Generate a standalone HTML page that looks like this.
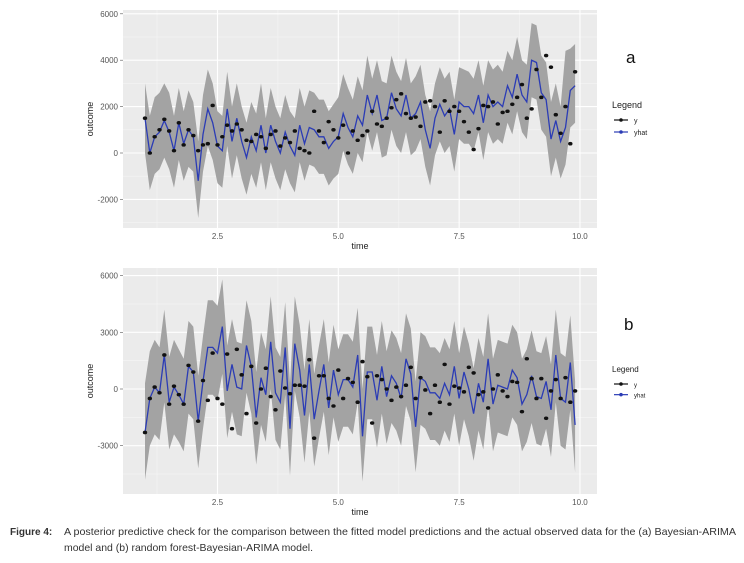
<!DOCTYPE html>
<html><head><meta charset="utf-8"><style>
body{margin:0;background:#fff;width:744px;height:558px;overflow:hidden;font-family:"Liberation Sans",sans-serif}
svg text{font-family:"Liberation Sans",sans-serif}
</style></head><body>
<svg id="fig" width="744" height="558" xmlns="http://www.w3.org/2000/svg">
<g id="pa"></g>
<g id="pb"></g>
<text x="626" y="63" font-size="17" fill="#111">a</text>
<text x="624" y="330" font-size="17" fill="#111">b</text>
<text x="10" y="535" font-size="10" font-weight="bold" fill="#333">Figure 4:</text>
<text x="64" y="535" font-size="10.5" fill="#333" textLength="672" lengthAdjust="spacingAndGlyphs">A posterior predictive check for the comparison between the fitted model predictions and the actual observed data for the (a) Bayesian-ARIMA</text>
<text x="64" y="551" font-size="10.5" fill="#333" textLength="249" lengthAdjust="spacingAndGlyphs">model and (b) random forest-Bayesian-ARIMA model.</text>
</svg>
<script>
const times=[];for(let i=0;i<90;i++)times.push(1+i*0.1);
const xTicks=[2.5,5.0,7.5,10.0];
const xTickLabels=["2.5","5.0","7.5","10.0"];
const aYTicks=[-2000,0,2000,4000,6000];
const bYTicks=[-3000,0,3000,6000];
const aYhat=[1500,0,700,900,1400,900,100,1300,400,1000,700,-1200,800,1900,1300,300,100,1900,500,1500,500,-200,700,100,1200,0,1200,500,0,900,300,-100,1200,400,1100,1000,700,700,200,500,700,1700,1100,700,1600,1200,2500,1700,2500,1400,1500,2600,1900,1600,2500,1500,1700,2200,1000,200,1500,2100,1600,1900,800,2200,2000,2000,1700,2500,1300,2500,2000,2200,2000,2900,2400,3400,2500,2200,4000,3900,2600,2300,600,1400,500,1100,2700,2900];
const aHi=[3000,1600,2400,2600,3000,2600,1600,2800,1800,2700,2200,500,2500,3600,3000,1800,1600,3500,2000,3000,2000,1300,2200,1700,3000,1500,2800,2000,1500,2500,1800,1500,2800,2000,2700,2600,2300,2300,1800,2100,2400,3400,2800,2300,3300,2700,4200,3200,4000,3100,3000,4200,3500,3100,4100,3000,3300,3800,2500,1800,3000,3700,3200,3500,2300,3700,3600,3500,3200,4000,2900,4000,3600,3800,3500,4400,4000,5000,4000,3800,5600,5500,4200,3900,2200,3000,2000,4400,4500,4700];
const aLo=[0,-1600,-900,-700,-200,-700,-1500,-300,-1200,-600,-800,-2800,-800,300,-300,-1300,-1500,300,-1100,-100,-1100,-1800,-900,-1500,-400,-1600,-400,-1100,-1600,-700,-1300,-1700,-400,-1200,-500,-600,-900,-900,-1400,-1100,-900,100,-500,-900,0,-400,900,100,900,-200,-100,1000,300,0,900,-100,100,600,-600,-1400,-100,500,0,300,-800,600,400,400,100,900,-300,900,400,600,400,1300,800,1800,900,600,2400,2300,1000,700,-1000,-200,-1100,-500,1100,1300];
const aY=[1500,0,700,1000,1450,950,100,1300,350,1000,750,100,350,400,2050,350,700,1200,950,1250,1000,550,500,800,700,200,800,950,300,650,450,950,200,100,0,1800,950,450,1350,1000,650,1200,0,950,550,750,950,1800,1250,1150,1500,1950,2300,2550,1700,1500,1550,1150,2200,2250,2000,900,2250,1800,2000,1800,1350,900,150,1050,2050,2000,2200,1250,1750,1800,2100,2400,2950,1500,1900,3600,2400,4200,3700,1650,850,2000,400,3500];
const bYhat=[-2300,-500,100,-200,1800,-700,100,-300,-800,1200,900,-1700,400,2200,2200,1900,3300,-100,1300,100,0,2300,1200,-1500,600,-300,2500,-200,-700,2200,-2100,2400,1000,-1400,1300,-1600,-100,1300,-1000,1000,-300,500,500,100,1800,-2500,900,900,-600,1200,-400,700,300,-500,1600,800,-2000,600,400,-200,-200,-500,300,-300,1200,-500,900,0,-1300,300,-700,1600,-800,200,100,0,1000,600,-800,-300,700,-400,-500,400,-1100,1800,-500,-700,1400,-1900];
const bHi=[300,2000,2600,2200,4200,1700,2600,2100,1600,3600,3300,700,2800,4700,4700,4400,5800,2300,3700,2500,2400,4700,3600,900,3000,2100,4900,2200,1700,4600,300,4900,3400,1000,3700,800,2300,3700,1400,3400,2100,2900,2900,2500,4300,0,3300,3300,1800,3600,2000,3100,2700,1900,4000,3200,400,3000,2800,2200,2200,1900,2700,2100,3600,1900,3300,2400,1100,2700,1700,4000,1600,2600,2500,2400,3400,3000,1600,2100,3100,2000,1900,2800,1300,4200,1900,1700,3900,400];
const bLo=[-4800,-3000,-2400,-2700,-700,-3200,-2400,-2800,-3300,-1300,-1600,-4200,-2100,-300,-300,-600,800,-2600,-1200,-2400,-2500,-200,-1300,-4000,-1900,-2800,0,-2700,-3200,-300,-4600,-100,-1500,-3900,-1200,-4100,-2600,-1200,-3500,-1500,-2800,-2000,-2000,-2400,-700,-4900,-1600,-1600,-3100,-1300,-2900,-1800,-2200,-3000,-900,-1700,-4400,-1900,-2100,-2700,-2700,-3000,-2200,-2800,-1300,-3000,-1600,-2500,-3800,-2200,-3200,-900,-3300,-2300,-2400,-2500,-1500,-1900,-3300,-2800,-1800,-2900,-3000,-2100,-3600,-700,-3000,-3200,-1100,-4400];
const bY=[-2300,-500,100,-200,1800,-800,150,-300,-800,1250,900,-1700,450,-600,1900,-500,-800,1850,-2100,2100,750,-1300,1200,-1800,0,1100,-400,-1100,950,50,-250,200,200,150,1550,-2600,700,700,-500,-900,1000,-500,550,350,-700,1450,650,-1800,700,500,0,-600,100,-400,200,1150,-500,600,-50,-1300,200,-700,1300,-800,150,50,-150,1150,850,-300,-150,-1000,0,750,-100,-400,400,350,-1200,1600,550,-500,550,-1550,-100,500,-500,600,-700,-100];

const NS="http://www.w3.org/2000/svg";
function mk(parent,tag,attrs){const e=document.createElementNS(NS,tag);for(const k in attrs)e.setAttribute(k,attrs[k]);parent.appendChild(e);return e;}
const xs=t=>145+(t-1)*48.33;

function panel(g,top,bottom,zeroY,pxPer,yTicks,hi,lo,yhat,yobs,tag){
  const L=123,R=597;
  const bg=mk(g,'rect',{x:L,y:top,width:R-L,height:bottom-top,fill:'#ebebeb'});
  
  
  const ys=v=>zeroY-v*pxPer;
  const step=yTicks[1]-yTicks[0];
  for(let i=0;i<yTicks.length;i++){
    const m=yTicks[i]-step/2;const yy=ys(m);
    if(yy>top&&yy<bottom){const l=mk(g,'line',{x1:L,x2:R,y1:yy,y2:yy,stroke:'#f5f5f5','stroke-width':0.6});}
  }
  for(let i=0;i<xTicks.length;i++){
    const xx=xs(xTicks[i]-1.25);
    if(xx>L){const l=mk(g,'line',{x1:xx,x2:xx,y1:top,y2:bottom,stroke:'#f5f5f5','stroke-width':0.6});}
  }
  yTicks.forEach(v=>{const yy=ys(v);
    const l=mk(g,'line',{x1:L,x2:R,y1:yy,y2:yy,stroke:'#fff','stroke-width':1.1});
    
    
    const t=mk(g,'text',{x:L-5,y:yy+3,'font-size':8,fill:'#555','text-anchor':'end'});t.textContent=v;
    
    
    mk(g,'line',{x1:L-3,x2:L,y1:yy,y2:yy,stroke:'#555','stroke-width':0.6});
  });
  xTicks.forEach((v,i)=>{const xx=xs(v);
    const l=mk(g,'line',{x1:xx,x2:xx,y1:top,y2:bottom,stroke:'#fff','stroke-width':1.1});
    
    
    const t=mk(g,'text',{x:xx,y:bottom+11,'font-size':8,fill:'#555','text-anchor':'middle'});t.textContent=xTickLabels[i];
    
    
  });
  let d='';
  for(let i=0;i<times.length;i++)d+=(i?'L':'M')+xs(times[i]).toFixed(1)+','+ys(hi[i]).toFixed(1);
  for(let i=times.length-1;i>=0;i--)d+='L'+xs(times[i]).toFixed(1)+','+ys(lo[i]).toFixed(1);
  const band=mk(g,'path',{d:d+'Z',fill:'#a3a3a3'});
  
  
  let p='';
  for(let i=0;i<times.length;i++)p+=(i?'L':'M')+xs(times[i]).toFixed(1)+','+ys(yhat[i]).toFixed(1);
  const line=mk(g,'path',{d:p,fill:'none',stroke:'#2b3cb5','stroke-width':1.3});
  
  
  for(let i=0;i<times.length;i++){
    const c=mk(g,'ellipse',{cx:xs(times[i]),cy:ys(yobs[i]),rx:2.2,ry:1.8,fill:'#111'});
    
    
  }
  const xl=mk(g,'text',{x:360,y:bottom+21,'font-size':9,fill:'#222','text-anchor':'middle'});xl.textContent='time';
  
  
  const cy=(top+bottom)/2;
  const yl=mk(g,'text',{x:93,y:cy,'font-size':9,fill:'#222','text-anchor':'middle',transform:`rotate(-90 93 ${cy})`});yl.textContent='outcome';
  
  
}
panel(document.getElementById('pa'),10,228,153,0.0232,aYTicks,aHi,aLo,aYhat,aY,'a');
panel(document.getElementById('pb'),268,494,389,0.0189,bYTicks,bHi,bLo,bYhat,bY,'b');

function legend(g,x,y,fs){
  const t=mk(g,'text',{x:x,y:y,'font-size':fs,fill:'#222'});t.textContent='Legend';
  
  
  [['y','#111'],['yhat','#2b3cb5']].forEach((e,i)=>{
    const yy=y+12+i*12*(fs/9);
    const gg=mk(g,'g',{});
    
    
    mk(gg,'line',{x1:x+2,x2:x+16,y1:yy,y2:yy,stroke:e[1],'stroke-width':1.2});
    mk(gg,'circle',{cx:x+9,cy:yy,r:1.8,fill:e[1]});
    const tt=mk(gg,'text',{x:x+22,y:yy+3,'font-size':fs-2,fill:'#222'});tt.textContent=e[0];
  });
}
legend(document.getElementById('pa'),612,108,9);
legend(document.getElementById('pb'),612,372,8);
</script>
</body></html>
